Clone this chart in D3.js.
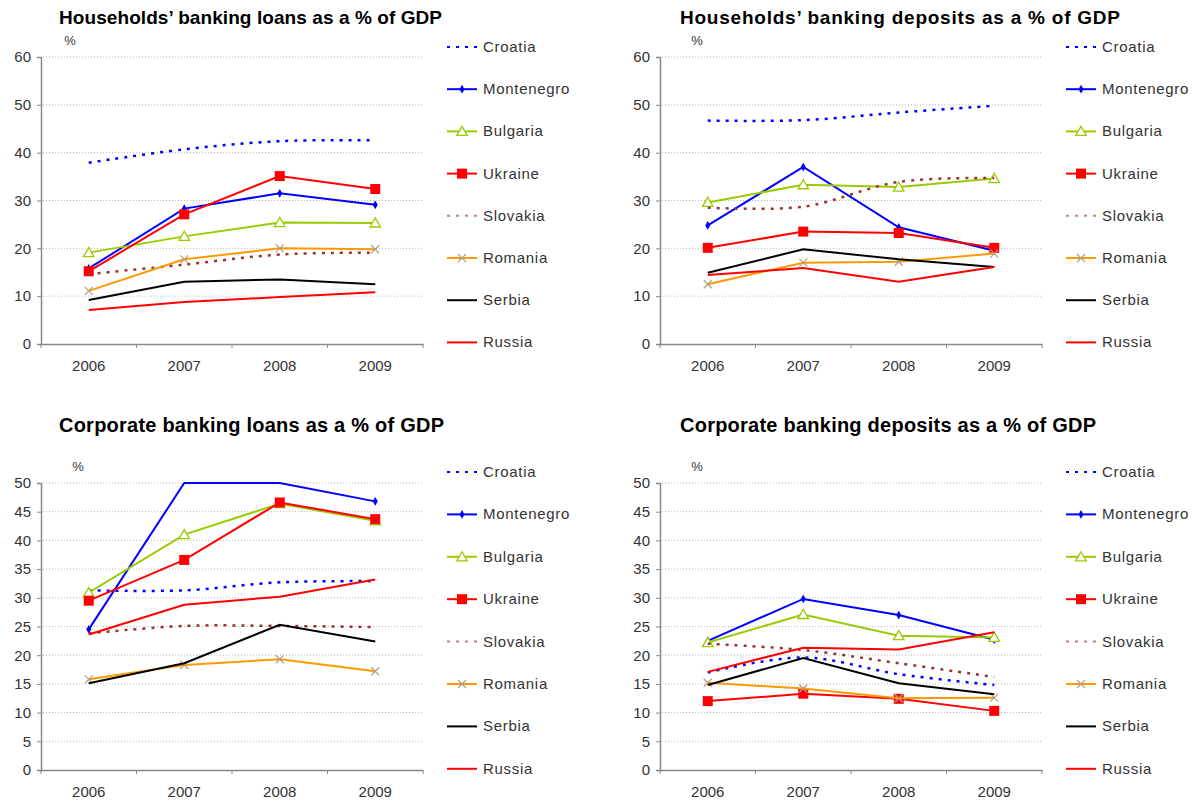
<!DOCTYPE html>
<html>
<head>
<meta charset="utf-8">
<script src="https://cdn.jsdelivr.net/npm/d3@7"></script>
<style>
  body { margin: 0; background: #fff; }
  svg { font-family: "Liberation Sans", Arial, sans-serif; }
  .title { font-weight: bold; fill: #000; }
  .tick text { font-size: 15px; fill: #333; }
  .legend text { font-size: 15px; fill: #333; letter-spacing: 0.7px; }
  .unit { font-size: 13px; fill: #333; }
</style>
</head>
<body>
<div class="chart"></div>
<script>
const WIDTH = 1200;
const HEIGHT = 802;

var years = ['2006', '2007', '2008', '2009'];
var countries = ['Croatia', 'Montenegro', 'Bulgaria', 'Ukraine', 'Slovakia', 'Romania', 'Serbia', 'Russia'];

// households' banking loans, % of GDP
var hhLoans = {
    Croatia:    [37.9, 40.7, 42.4, 42.6],
    Montenegro: [15.8, 28.3, 31.5, 29.1],
    Bulgaria:   [19.1, 22.5, 25.4, 25.3],
    Ukraine:    [15.2, 27.1, 35.1, 32.4],
    Slovakia:   [14.6, 16.6, 18.7, 19.1],
    Romania:    [11.1, 17.7, 20.0, 19.8],
    Serbia:     [9.2, 13.0, 13.5, 12.5],
    Russia:     [7.1, 8.8, 9.8, 10.8]
};

// households' banking deposits, % of GDP
var hhDeposits = {
    Croatia:    [46.7, 46.8, 48.4, 49.8],
    Montenegro: [24.8, 37.0, 24.4, 19.5],
    Bulgaria:   [29.6, 33.3, 32.8, 34.6],
    Ukraine:    [20.1, 23.5, 23.2, 20.1],
    Slovakia:   [28.5, 28.7, 33.9, 34.7],
    Romania:    [12.5, 17.0, 17.2, 18.9],
    Serbia:     [14.9, 19.8, 17.7, 16.1],
    Russia:     [14.4, 15.9, 13.0, 16.1]
};

// corporate banking loans, % of GDP (Montenegro runs off the top in 2007-08)
var corpLoans = {
    Croatia:    [31.3, 31.3, 32.7, 32.9],
    Montenegro: [24.5, 50.3, 50.3, 46.8],
    Bulgaria:   [30.9, 41.0, 46.4, 43.4],
    Ukraine:    [29.5, 36.6, 46.6, 43.7],
    Slovakia:   [23.8, 25.1, 25.1, 24.9],
    Romania:    [15.8, 18.3, 19.3, 17.2],
    Serbia:     [15.1, 18.6, 25.3, 22.4],
    Russia:     [23.6, 28.8, 30.2, 33.2]
};

// corporate banking deposits, % of GDP
var corpDeposits = {
    Croatia:    [17.0, 19.6, 16.7, 14.8],
    Montenegro: [22.5, 29.8, 27.0, 22.7],
    Bulgaria:   [22.2, 27.1, 23.4, 23.1],
    Ukraine:    [12.0, 13.3, 12.4, 10.3],
    Slovakia:   [22.0, 20.9, 18.6, 16.2],
    Romania:    [15.2, 14.2, 12.5, 12.6],
    Serbia:     [14.8, 19.5, 15.1, 13.2],
    Russia:     [17.1, 21.3, 21.0, 24.0]
};

var styles = {
    Croatia:    { color: '#0000ff', dash: '3,6', width: 2.5, smooth: true, marker: null },
    Montenegro: { color: '#0000ff', dash: null, width: 2, smooth: false, marker: 'diamond' },
    Bulgaria:   { color: '#99cc00', dash: null, width: 2, smooth: false, marker: 'triangle' },
    Ukraine:    { color: '#ff0000', dash: null, width: 2, smooth: false, marker: 'square' },
    Slovakia:   { color: '#993333', dash: '3,6', width: 2.5, smooth: true, marker: null },
    Romania:    { color: '#ff9900', dash: null, width: 2, smooth: false, marker: 'cross' },
    Serbia:     { color: '#000000', dash: null, width: 2, smooth: false, marker: null },
    Russia:     { color: '#ff0000', dash: null, width: 2, smooth: false, marker: null }
};

var panels = [
    { title: 'Households\u2019 banking loans as a % of GDP', data: hhLoans, titleSize: 19, titleW: 383,
      axisX: 41, yTop: 57, yBottom: 344, yMax: 60, step: 10,
      titleX: 59, titleY: 24, unitX: 70, unitY: 45, legX: 447, legY: 47, legStep: 42.2 },
    { title: 'Households\u2019 banking deposits as a % of GDP', data: hhDeposits, titleSize: 19, titleW: 440,
      axisX: 660, yTop: 57, yBottom: 344, yMax: 60, step: 10,
      titleX: 680, titleY: 24, unitX: 697, unitY: 45, legX: 1066, legY: 47, legStep: 42.2 },
    { title: 'Corporate banking loans as a % of GDP', data: corpLoans, titleSize: 20, titleW: 385,
      axisX: 41, yTop: 483, yBottom: 770, yMax: 50, step: 5,
      titleX: 59, titleY: 432, unitX: 78, unitY: 471, legX: 447, legY: 472, legStep: 42.4 },
    { title: 'Corporate banking deposits as a % of GDP', data: corpDeposits, titleSize: 20, titleW: 416,
      axisX: 660, yTop: 483, yBottom: 770, yMax: 50, step: 5,
      titleX: 680, titleY: 432, unitX: 697, unitY: 471, legX: 1066, legY: 472, legStep: 42.4 }
];

var PLOT_W = 382;

var _svg = d3.select('.chart').append('svg')
    .attr('width', WIDTH)
    .attr('height', HEIGHT);

var translate = function (x, y) {
    return 'translate(' + x + ',' + y + ')';
};

var drawMarker = function (g, kind, color, x, y) {
    if (kind === 'diamond') {
        g.append('path')
            .attr('d', d3.symbol(d3.symbolDiamond, 22)())
            .attr('transform', translate(x, y))
            .attr('fill', color);
    } else if (kind === 'triangle') {
        g.append('path')
            .attr('d', d3.symbol(d3.symbolTriangle, 48)())
            .attr('transform', translate(x, y + 1))
            .attr('fill', '#fff')
            .attr('stroke', color)
            .attr('stroke-width', 1.3);
    } else if (kind === 'square') {
        g.append('rect')
            .attr('x', x - 5).attr('y', y - 5)
            .attr('width', 10).attr('height', 10)
            .attr('fill', color);
    } else if (kind === 'cross') {
        g.append('path')
            .attr('d', 'M-4,-4L4,4M-4,4L4,-4')
            .attr('transform', translate(x, y))
            .attr('stroke', '#b0a080')
            .attr('stroke-width', 1.2);
    }
};

var generatePanel = function (p) {
    var x = d3.scaleBand().domain(years).range([p.axisX, p.axisX + PLOT_W]);
    var y = d3.scaleLinear().domain([0, p.yMax]).range([p.yBottom, p.yTop]).clamp(true);
    var cx = function (i) { return x(years[i]) + x.bandwidth() / 2; };
    var ticks = d3.range(0, p.yMax + p.step / 2, p.step);

    _svg.append('text')
        .attr('class', 'title')
        .attr('x', p.titleX)
        .attr('y', p.titleY)
        .attr('textLength', p.titleW)
        .attr('lengthAdjust', 'spacing')
        .style('font-size', p.titleSize + 'px')
        .text(p.title);

    _svg.append('text')
        .attr('class', 'unit')
        .attr('x', p.unitX)
        .attr('y', p.unitY)
        .attr('text-anchor', 'middle')
        .text('%');

    // dotted gridlines
    _svg.append('g').selectAll('line').data(ticks.filter(function (t) { return t > 0; }))
        .enter().append('line')
        .attr('x1', p.axisX + 2).attr('x2', p.axisX + PLOT_W)
        .attr('y1', function (t) { return y(t); })
        .attr('y2', function (t) { return y(t); })
        .attr('stroke', '#b8b8b8')
        .attr('stroke-width', 1)
        .attr('stroke-dasharray', '1,2');

    var yAxis = d3.axisLeft(y).tickValues(ticks).tickSize(4).tickPadding(6);
    var gy = _svg.append('g')
        .attr('transform', translate(p.axisX, 0))
        .call(yAxis);
    gy.select('.domain').attr('stroke', '#888').attr('stroke-width', 1.5);
    gy.selectAll('.tick line').attr('stroke', '#888');

    var xAxis = d3.axisBottom(x).tickSize(0).tickPadding(16);
    var gx = _svg.append('g')
        .attr('transform', translate(0, p.yBottom))
        .call(xAxis);
    gx.select('.domain').attr('stroke', '#888').attr('stroke-width', 1.5);

    // tick marks sit on the band edges
    var edges = years.map(function (yr) { return x(yr); }).concat([p.axisX + PLOT_W]);
    _svg.append('g').selectAll('line').data(edges)
        .enter().append('line')
        .attr('x1', function (d) { return d; }).attr('x2', function (d) { return d; })
        .attr('y1', p.yBottom).attr('y2', p.yBottom + 4)
        .attr('stroke', '#888');

    countries.forEach(function (c) {
        var s = styles[c];
        var vals = p.data[c];
        var line = d3.line()
            .x(function (d, i) { return cx(i); })
            .y(function (d) { return y(d); })
            .curve(s.smooth ? d3.curveCatmullRom : d3.curveLinear);
        var g = _svg.append('g');
        g.append('path')
            .attr('d', line(vals))
            .attr('fill', 'none')
            .attr('stroke', s.color)
            .attr('stroke-width', s.width)
            .attr('stroke-dasharray', s.dash);
        if (s.marker) {
            vals.forEach(function (v, i) {
                if (v <= p.yMax) drawMarker(g, s.marker, s.color, cx(i), y(v));
            });
        }
    });

    // legend
    var leg = _svg.append('g').attr('class', 'legend');
    countries.forEach(function (c, i) {
        var s = styles[c];
        var ly = p.legY + i * p.legStep;
        var col = (c === 'Slovakia') ? '#c08080' : s.color;
        leg.append('line')
            .attr('x1', p.legX).attr('x2', p.legX + 30)
            .attr('y1', ly).attr('y2', ly)
            .attr('stroke', col)
            .attr('stroke-width', s.dash ? 2 : s.width)
            .attr('stroke-dasharray', s.dash ? '3,6' : null);
        if (s.marker) drawMarker(leg, s.marker, s.color, p.legX + 15, ly);
        leg.append('text')
            .attr('x', p.legX + 36)
            .attr('y', ly + 5)
            .text(c);
    });
};

panels.forEach(generatePanel);
</script>
</body>
</html>
